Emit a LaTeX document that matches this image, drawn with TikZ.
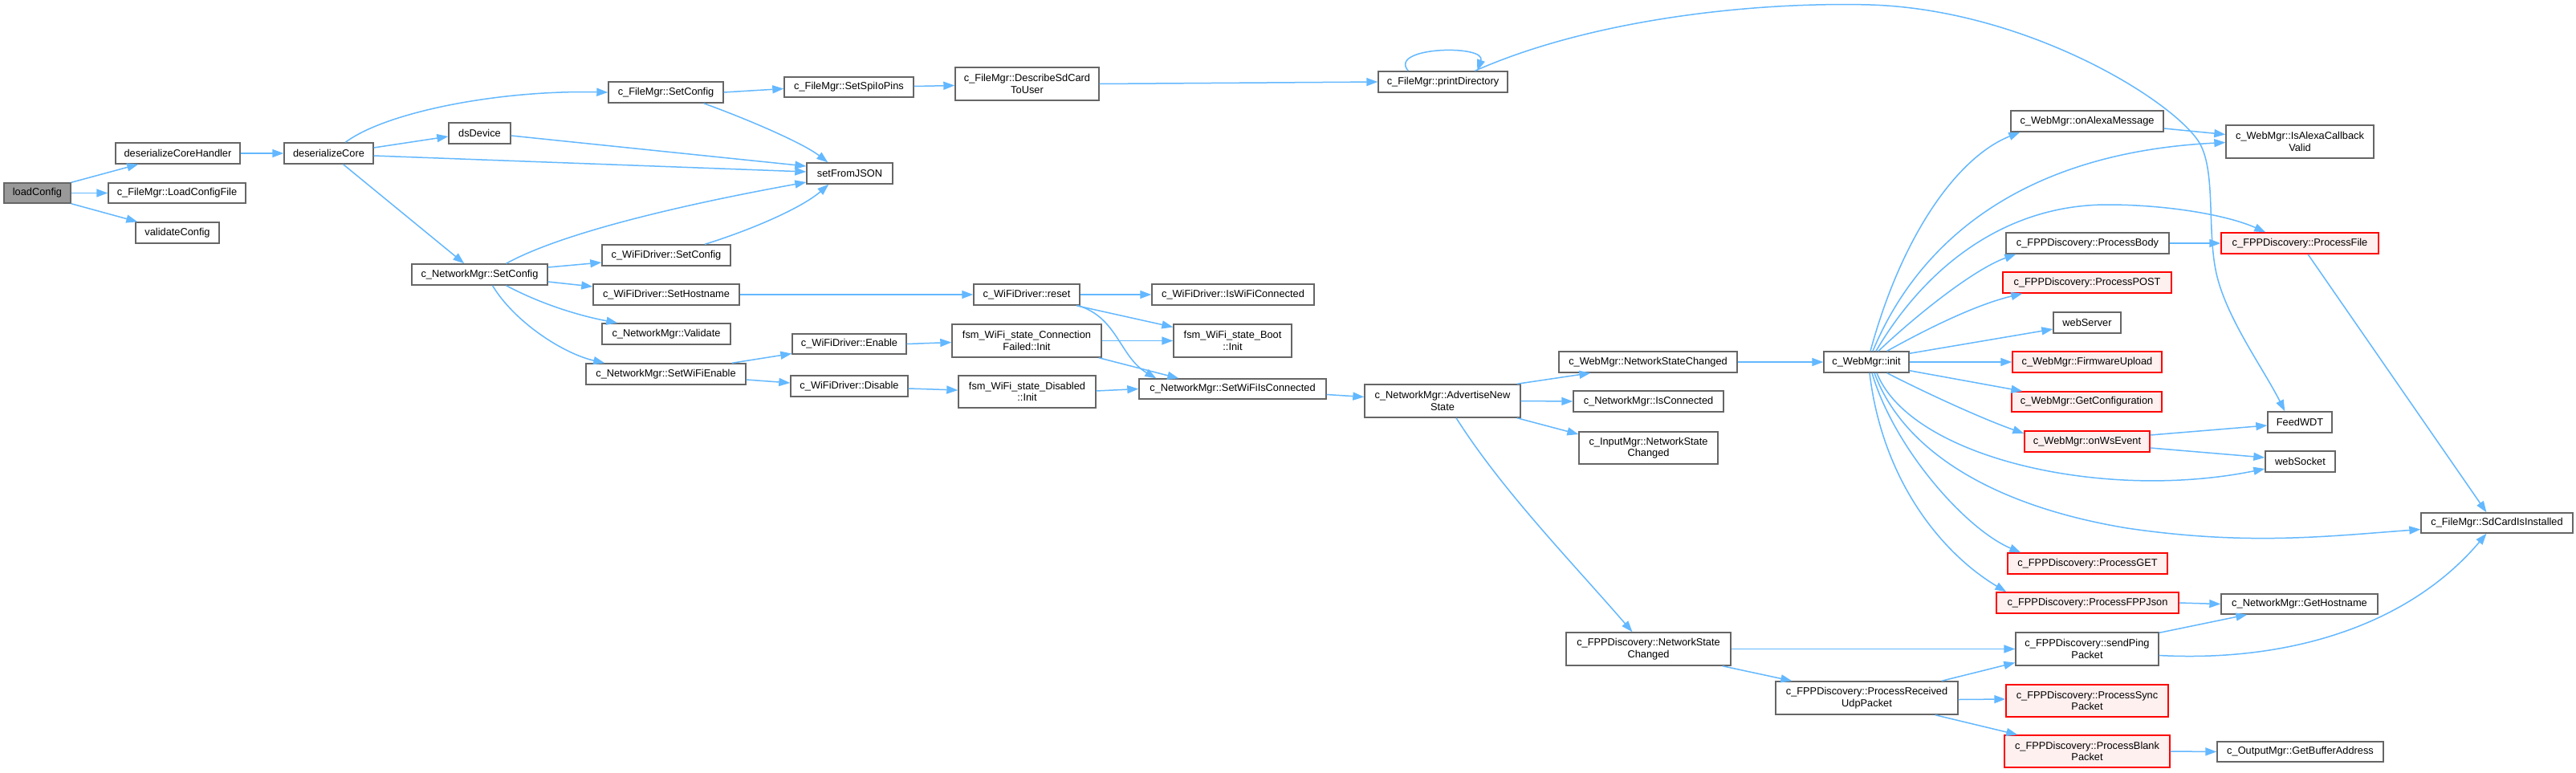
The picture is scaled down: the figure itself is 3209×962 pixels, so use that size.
\documentclass[tikz,border=0pt]{standalone}
\usepackage{fontspec}
\setmainfont{Liberation Sans}
\usetikzlibrary{arrows.meta,calc}
\definecolor{edgec}{HTML}{63B8FF}
\definecolor{bordc}{HTML}{666666}
\definecolor{grayf}{HTML}{999999}
\definecolor{redf}{HTML}{FFF0F0}
\definecolor{redb}{HTML}{FF0000}
\tikzset{
 fn/.style={draw=bordc, fill=white, line width=1.4pt, inner sep=0pt, align=center, font=\fontsize{12.8}{14.5}\selectfont},
 fnred/.style={fn, draw=redb, fill=redf},
 fngray/.style={fn, fill=grayf},
 call/.style={draw=edgec, line width=1.5pt, -{Triangle[length=14pt,width=10pt]}},
}
\newcommand\nd[7]{\node[#1, minimum width={(#4)-(#3)}, minimum height={(#6)-(#5)}] (#2) at ({((#3)+(#4))/2},{((#5)+(#6))/2}) {#7};}
\begin{document}
\begin{tikzpicture}[x=1pt,y=-1pt]
\fill[white] (0,0) rectangle (3209,962);
\useasboundingbox (0,0) rectangle (3209,962);
\nd{fngray}{lc}{5}{88}{228}{253}{loadConfig}
\nd{fn}{dch}{144}{299}{178}{204}{deserializeCoreHandler}
\nd{fn}{lcf}{135}{306}{228}{253}{c\_FileMgr::LoadConfigFile}
\nd{fn}{vc}{169}{273}{277}{303}{validateConfig}
\nd{fn}{dc}{354}{465}{178}{204}{deserializeCore}
\nd{fn}{dsd}{559}{636}{153}{179}{dsDevice}
\nd{fn}{fsc}{758}{901}{102}{128}{c\_FileMgr::SetConfig}
\nd{fn}{nsc}{513}{682}{329}{355}{c\_NetworkMgr::SetConfig}
\nd{fn}{wsc}{750}{910}{305}{331}{c\_WiFiDriver::SetConfig}
\nd{fn}{wsh}{739}{921}{354}{380}{c\_WiFiDriver::SetHostname}
\nd{fn}{nval}{750}{910}{403}{429}{c\_NetworkMgr::Validate}
\nd{fn}{nswe}{730}{929}{453}{479}{c\_NetworkMgr::SetWiFiEnable}
\nd{fn}{spi}{977}{1138}{96}{121}{c\_FileMgr::SetSpiIoPins}
\nd{fn}{dsc}{1190}{1369}{84}{125}{c\_FileMgr::DescribeSdCard\\ToUser}
\nd{fn}{sfj}{1005}{1112}{203}{229}{setFromJSON}
\nd{fn}{rst}{1213}{1345}{354}{380}{c\_WiFiDriver::reset}
\nd{fn}{iwc}{1435}{1637}{354}{380}{c\_WiFiDriver::IsWiFiConnected}
\nd{fn}{wen}{987}{1129}{416}{441}{c\_WiFiDriver::Enable}
\nd{fn}{cfi}{1186}{1372}{404}{445}{fsm\_WiFi\_state\_Connection\\Failed::Init}
\nd{fn}{bti}{1462}{1609}{404}{445}{fsm\_WiFi\_state\_Boot\\::Init}
\nd{fn}{wdis}{985}{1131}{468}{494}{c\_WiFiDriver::Disable}
\nd{fn}{dis}{1194}{1365}{468}{508}{fsm\_WiFi\_state\_Disabled\\::Init}
\nd{fn}{swic}{1419}{1652}{472}{497}{c\_NetworkMgr::SetWiFiIsConnected}
\nd{fn}{ans}{1700}{1894}{479}{520}{c\_NetworkMgr::AdvertiseNew\\State}
\nd{fn}{icn}{1960}{2147}{487}{513}{c\_NetworkMgr::IsConnected}
\nd{fn}{imsc}{1967}{2140}{538}{578}{c\_InputMgr::NetworkState\\Changed}
\nd{fn}{fnsc}{1951}{2156}{788}{829}{c\_FPPDiscovery::NetworkState\\Changed}
\nd{fn}{prup}{2212}{2439}{849}{890}{c\_FPPDiscovery::ProcessReceived\\UdpPacket}
\nd{fn}{pd}{1717}{1878}{89}{115}{c\_FileMgr::printDirectory}
\nd{fn}{wnsc}{1942}{2164}{438}{464}{c\_WebMgr::NetworkStateChanged}
\nd{fn}{init}{2272}{2378}{438}{464}{c\_WebMgr::init}
\nd{fn}{oam}{2505}{2695}{138}{164}{c\_WebMgr::onAlexaMessage}
\nd{fn}{iacv}{2773}{2957}{156}{197}{c\_WebMgr::IsAlexaCallback\\Valid}
\nd{fn}{pbody}{2499}{2702}{290}{316}{c\_FPPDiscovery::ProcessBody}
\nd{fnred}{pfile}{2767}{2963}{290}{316}{c\_FPPDiscovery::ProcessFile}
\nd{fnred}{ppost}{2495}{2705}{339}{365}{c\_FPPDiscovery::ProcessPOST}
\nd{fn}{wsrv}{2558}{2642}{389}{415}{webServer}
\nd{fnred}{fwu}{2507}{2693}{438}{464}{c\_WebMgr::FirmwareUpload}
\nd{fnred}{gcfg}{2506}{2693}{488}{513}{c\_WebMgr::GetConfiguration}
\nd{fn}{fwdt}{2825}{2905}{513}{539}{FeedWDT}
\nd{fnred}{ows}{2522}{2678}{537}{563}{c\_WebMgr::onWsEvent}
\nd{fn}{wsock}{2822}{2909}{562}{588}{webSocket}
\nd{fn}{sdci}{3016}{3205}{639}{664}{c\_FileMgr::SdCardIsInstalled}
\nd{fnred}{pget}{2501}{2700}{689}{715}{c\_FPPDiscovery::ProcessGET}
\nd{fnred}{pfj}{2487}{2714}{738}{764}{c\_FPPDiscovery::ProcessFPPJson}
\nd{fn}{ghn}{2767}{2962}{740}{765}{c\_NetworkMgr::GetHostname}
\nd{fn}{spp}{2511}{2689}{788}{829}{c\_FPPDiscovery::sendPing\\Packet}
\nd{fnred}{psync}{2499}{2701}{853}{893}{c\_FPPDiscovery::ProcessSync\\Packet}
\nd{fnred}{pblank}{2497}{2703}{916}{956}{c\_FPPDiscovery::ProcessBlank\\Packet}
\nd{fn}{gba}{2762}{2969}{924}{949}{c\_OutputMgr::GetBufferAddress}
% edges
\path[call] (lc.north east) -- ($(dch.south west)+(29,0)$);
\path[call] (lc.east) -- (lcf.west);
\path[call] (lc.south east) -- ($(vc.north west)+(3,0)$);
\path[call] (dch.east) -- (dc.west);
\path[call] ($(dc.north west)+(77,0)$) .. controls (480,140) and (620,112) .. (fsc.west);
\path[call] ($(dc.east)+(0,-7)$) -- ($(dsd.west)+(0,4)$);
\path[call] ($(dc.east)+(0,3)$) -- ($(sfj.west)+(0,-2)$);
\path[call] ($(dc.south)+(18,0)$) -- ($(nsc.north west)+(66,0)$);
\path[call] ($(dsd.east)+(0,3)$) -- ($(sfj.west)+(0,-9)$);
\path[call] (fsc.east) -- ($(spi.west)+(0,2)$);
\path[call] ($(fsc.south)+(47,0)$) .. controls (930,148) and (1000,178) .. ($(sfj.north west)+(27,0)$);
\path[call] ($(nsc.north)+(33,0)$) .. controls (700,290) and (850,255) .. ($(sfj.west)+(0,11)$);
\path[call] ($(wsc.north)+(48,0)$) .. controls (940,285) and (1000,258) .. ($(sfj.south west)+(28,0)$);
\path[call] ($(nsc.east)+(0,-9)$) -- ($(wsc.west)+(0,9)$);
\path[call] ($(nsc.east)+(0,9)$) -- ($(wsh.west)+(0,-10)$);
\path[call] ($(nsc.south)+(33,0)$) .. controls (680,382) and (730,395) .. ($(nval.north west)+(20,0)$);
\path[call] ($(nsc.south)+(16,0)$) .. controls (640,400) and (700,440) .. ($(nswe.north west)+(24,0)$);
\path[call] ($(spi.east)+(0,-1)$) -- ($(dsc.west)+(0,2)$);
\path[call] (dsc.east) -- (pd.west);
\path[call] ($(pd.north west)+(38,0)$) .. controls (1728,58) and (1852,55) .. ($(pd.north west)+(124,0)$);
\path[call] ($(pd.north west)+(121,0)$) .. controls (1980,25) and (2180,2) .. (2330,6) .. controls (2520,12) and (2700,120) .. (2738,175) .. controls (2762,210) and (2748,290) .. (2762,345) .. controls (2776,400) and (2820,460) .. ($(fwdt.north west)+(22,0)$);
\path[call] (wsh.east) -- (rst.west);
\path[call] (rst.east) -- (iwc.west);
\path[call] ($(rst.south east)+(-5,0)$) -- ($(bti.west)+(0,-17)$);
\path[call] ($(rst.south east)+(-3,0)$) .. controls (1392,395) and (1395,445) .. ($(swic.north west)+(22,0)$);
\path[call] (cfi.east) -- (bti.west);
\path[call] ($(cfi.south east)+(-4,0)$) -- ($(swic.north west)+(50,0)$);
\path[call] ($(nswe.north east)+(-18,0)$) -- ($(wen.west)+(0,12)$);
\path[call] ($(nswe.east)+(0,7)$) -- ($(wdis.west)+(0,-4)$);
\path[call] (wen.east) -- ($(cfi.west)+(0,2)$);
\path[call] ($(wdis.east)+(0,3)$) -- ($(dis.west)+(0,-2)$);
\path[call] ($(dis.east)+(0,-1)$) -- (swic.west);
\path[call] ($(swic.east)+(0,7)$) -- ($(ans.west)+(0,-5)$);
\path[call] ($(ans.north east)+(-5,0)$) -- ($(wnsc.south west)+(40,0)$);
\path[call] (ans.east) -- (icn.west);
\path[call] ($(ans.south east)+(-5,0)$) -- ($(imsc.west)+(0,-17)$);
\path[call] ($(ans.south)+(17,0)$) .. controls (1872,612) and (1958,700) .. ($(fnsc.north)+(-20,0)$);
\path[call] (wnsc.east) -- (init.west);
\path[call] ($(init.north)+(5,0)$) .. controls (2370,290) and (2440,195) .. ($(oam.south west)+(12,0)$);
\path[call] ($(init.north)+(8,0)$) .. controls (2390,300) and (2520,190) .. ($(iacv.west)+(0,1)$);
\path[call] ($(init.north)+(12,0)$) .. controls (2400,330) and (2500,255) .. (2625,255) .. controls (2700,255) and (2775,268) .. ($(pfile.north west)+(56,0)$);
\path[call] ($(init.north)+(15,0)$) .. controls (2390,390) and (2460,335) .. ($(pbody.south west)+(13,0)$);
\path[call] ($(init.north east)+(-28,0)$) .. controls (2400,410) and (2460,380) .. ($(ppost.south west)+(25,0)$);
\path[call] ($(init.north east)+(0,3)$) -- ($(wsrv.west)+(0,8)$);
\path[call] (init.east) -- (fwu.west);
\path[call] ($(init.south east)+(0,-3)$) -- ($(gcfg.north west)+(14,0)$);
\path[call] ($(init.south east)+(-28,0)$) .. controls (2400,490) and (2470,522) .. ($(ows.west)+(0,-10)$);
\path[call] ($(init.south)+(13,0)$) .. controls (2380,570) and (2620,625) .. ($(wsock.west)+(0,9)$);
\path[call] ($(init.south)+(10,0)$) .. controls (2370,560) and (2480,630) .. (2650,658) .. controls (2800,680) and (2900,668) .. ($(sdci.west)+(0,8)$);
\path[call] ($(init.south)+(7,0)$) .. controls (2360,560) and (2450,660) .. ($(pget.north west)+(17,0)$);
\path[call] ($(init.south)+(4,0)$) .. controls (2345,600) and (2420,690) .. ($(pfj.north west)+(13,0)$);
\path[call] ($(oam.east)+(0,9)$) -- ($(iacv.west)+(0,-9)$);
\path[call] (pbody.east) -- (pfile.west);
\path[call] ($(pfile.south)+(10,0)$) -- ($(sdci.north)+(-13,0)$);
\path[call] ($(ows.east)+(0,-8)$) -- ($(fwdt.west)+(0,4)$);
\path[call] ($(ows.east)+(0,8)$) -- ($(wsock.west)+(0,-5)$);
\path[call] (pfj.east) -- (ghn.west);
\path[call] (fnsc.east) -- (spp.west);
\path[call] ($(fnsc.south east)+(-11,0)$) -- ($(prup.north west)+(21,0)$);
\path[call] ($(prup.north east)+(-21,0)$) -- ($(spp.west)+(0,17)$);
\path[call] ($(prup.east)+(0,2)$) -- ($(psync.west)+(0,-2)$);
\path[call] ($(prup.south east)+(-29,0)$) -- ($(pblank.north west)+(17,0)$);
\path[call] ($(spp.north east)+(0,1)$) -- ($(ghn.south west)+(33,0)$);
\path[call] ($(spp.east)+(0,8)$) .. controls (2850,825) and (3000,780) .. ($(sdci.south)+(-13,0)$);
\path[call] (pblank.east) -- (gba.west);
\end{tikzpicture}
\end{document}
